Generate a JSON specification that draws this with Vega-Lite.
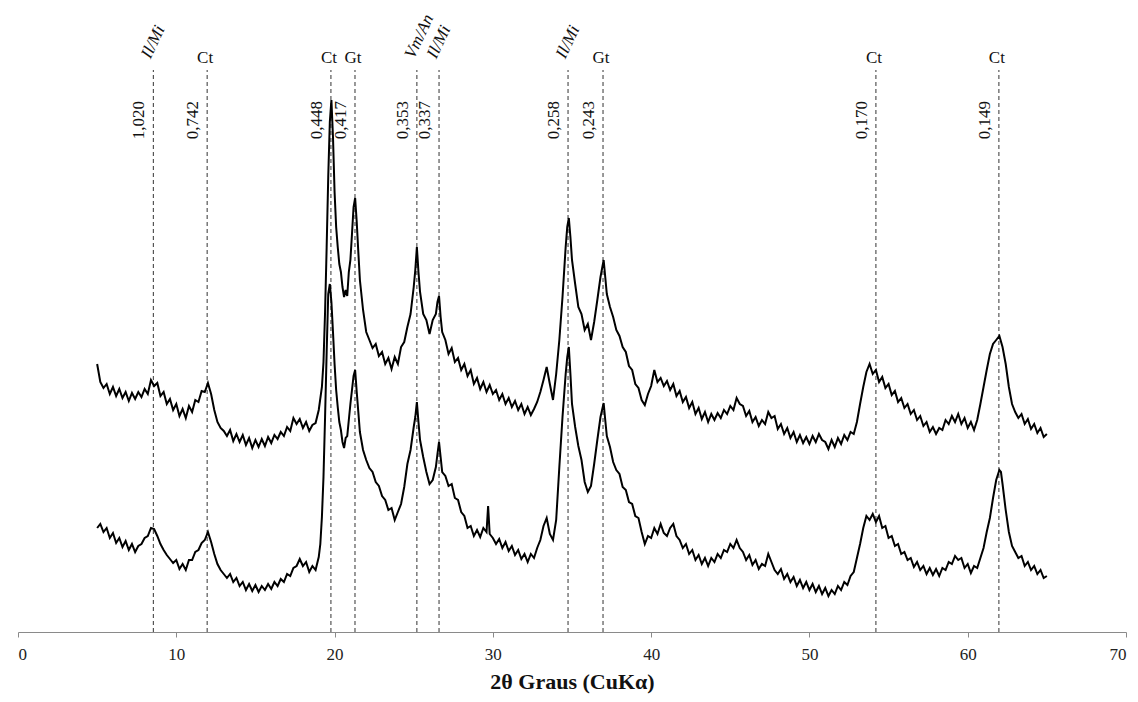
{
  "$schema": "https://vega.github.io/schema/vega-lite/v6.json",
  "autosize": {"type": "none"},
  "width": 1108,
  "height": 632,
  "padding": {"left": 18, "right": 12, "top": 0, "bottom": 70},
  "background": "white",
  "config": {"view": {"stroke": null}},
  "datasets": {
    "peaks": [
      {"t": 8.55, "d": "1,020", "mineral": "Il/Mi", "kind": "italic"},
      {"t": 11.95, "d": "0,742", "mineral": "Ct", "kind": "upright"},
      {"t": 19.77, "d": "0,448", "mineral": "Ct", "kind": "upright"},
      {"t": 21.29, "d": "0,417", "mineral": "Gt", "kind": "upright"},
      {"t": 25.2, "d": "0,353", "mineral": "Vm/An", "kind": "italic"},
      {"t": 26.6, "d": "0,337", "mineral": "Il/Mi", "kind": "italic"},
      {"t": 34.75, "d": "0,258", "mineral": "Il/Mi", "kind": "italic"},
      {"t": 36.96, "d": "0,243", "mineral": "Gt", "kind": "upright"},
      {"t": 54.2, "d": "0,170", "mineral": "Ct", "kind": "upright"},
      {"t": 61.97, "d": "0,149", "mineral": "Ct", "kind": "upright"}
    ],
    "upper": [
      {"t":5.0,"y":268},{"t":5.2,"y":250},{"t":5.4,"y":244},{"t":5.6,"y":248},{"t":5.8,"y":238},{"t":6.0,"y":245},{"t":6.2,"y":236},{"t":6.4,"y":243},{"t":6.6,"y":234},{"t":6.8,"y":240},
      {"t":7.0,"y":231},{"t":7.2,"y":239},{"t":7.4,"y":233},{"t":7.6,"y":240},{"t":7.8,"y":235},{"t":8.0,"y":243},{"t":8.2,"y":238},{"t":8.4,"y":252},{"t":8.6,"y":246},{"t":8.8,"y":249},
      {"t":9.0,"y":236},{"t":9.2,"y":240},{"t":9.4,"y":228},{"t":9.6,"y":233},{"t":9.8,"y":222},{"t":10.0,"y":228},{"t":10.2,"y":216},{"t":10.4,"y":223},{"t":10.6,"y":214},{"t":10.8,"y":226},
      {"t":11.0,"y":220},{"t":11.2,"y":232},{"t":11.4,"y":230},{"t":11.6,"y":241},{"t":11.8,"y":240},{"t":12.0,"y":249},{"t":12.2,"y":238},{"t":12.4,"y":222},{"t":12.6,"y":210},{"t":12.8,"y":204},
      {"t":13.0,"y":201},{"t":13.2,"y":196},{"t":13.4,"y":202},{"t":13.6,"y":191},{"t":13.8,"y":198},{"t":14.0,"y":190},{"t":14.2,"y":197},{"t":14.4,"y":187},{"t":14.6,"y":194},{"t":14.8,"y":184},
      {"t":15.0,"y":192},{"t":15.2,"y":185},{"t":15.4,"y":193},{"t":15.6,"y":186},{"t":15.8,"y":195},{"t":16.0,"y":189},{"t":16.2,"y":197},{"t":16.4,"y":193},{"t":16.6,"y":200},{"t":16.8,"y":196},
      {"t":17.0,"y":205},{"t":17.2,"y":201},{"t":17.4,"y":214},{"t":17.6,"y":208},{"t":17.8,"y":213},{"t":18.0,"y":204},{"t":18.2,"y":210},{"t":18.4,"y":201},{"t":18.6,"y":207},{"t":18.8,"y":209},
      {"t":19.0,"y":222},{"t":19.2,"y":245},{"t":19.3,"y":270},{"t":19.4,"y":320},{"t":19.5,"y":385},{"t":19.6,"y":455},{"t":19.7,"y":510},{"t":19.8,"y":532},{"t":19.9,"y":495},{"t":20.0,"y":440},
      {"t":20.1,"y":405},{"t":20.2,"y":385},{"t":20.3,"y":368},{"t":20.4,"y":360},{"t":20.5,"y":345},{"t":20.6,"y":335},{"t":20.7,"y":342},{"t":20.8,"y":336},{"t":20.9,"y":360},{"t":21.0,"y":372},
      {"t":21.1,"y":398},{"t":21.2,"y":425},{"t":21.3,"y":434},{"t":21.4,"y":410},{"t":21.5,"y":380},{"t":21.6,"y":352},{"t":21.8,"y":322},{"t":22.0,"y":300},{"t":22.2,"y":292},{"t":22.4,"y":284},
      {"t":22.6,"y":288},{"t":22.8,"y":276},{"t":23.0,"y":280},{"t":23.2,"y":268},{"t":23.4,"y":274},{"t":23.6,"y":263},{"t":23.8,"y":275},{"t":24.0,"y":268},{"t":24.2,"y":285},{"t":24.4,"y":290},
      {"t":24.6,"y":305},{"t":24.8,"y":318},{"t":25.0,"y":345},{"t":25.1,"y":362},{"t":25.2,"y":385},{"t":25.3,"y":360},{"t":25.4,"y":340},{"t":25.6,"y":318},{"t":25.8,"y":312},{"t":26.0,"y":298},
      {"t":26.2,"y":312},{"t":26.4,"y":318},{"t":26.5,"y":330},{"t":26.6,"y":336},{"t":26.7,"y":315},{"t":26.8,"y":300},{"t":27.0,"y":292},{"t":27.2,"y":278},{"t":27.4,"y":284},{"t":27.6,"y":270},
      {"t":27.8,"y":274},{"t":28.0,"y":262},{"t":28.2,"y":268},{"t":28.4,"y":256},{"t":28.6,"y":262},{"t":28.8,"y":248},{"t":29.0,"y":254},{"t":29.2,"y":243},{"t":29.4,"y":250},{"t":29.6,"y":240},
      {"t":29.8,"y":247},{"t":30.0,"y":238},{"t":30.2,"y":242},{"t":30.4,"y":232},{"t":30.6,"y":238},{"t":30.8,"y":228},{"t":31.0,"y":234},{"t":31.2,"y":225},{"t":31.4,"y":231},{"t":31.6,"y":222},
      {"t":31.8,"y":228},{"t":32.0,"y":218},{"t":32.2,"y":225},{"t":32.4,"y":217},{"t":32.6,"y":223},{"t":32.8,"y":230},{"t":33.0,"y":240},{"t":33.2,"y":252},{"t":33.4,"y":265},{"t":33.6,"y":248},
      {"t":33.8,"y":232},{"t":34.0,"y":258},{"t":34.2,"y":292},{"t":34.4,"y":335},{"t":34.6,"y":385},{"t":34.7,"y":405},{"t":34.8,"y":414},{"t":34.9,"y":395},{"t":35.0,"y":372},{"t":35.2,"y":348},
      {"t":35.4,"y":325},{"t":35.6,"y":318},{"t":35.8,"y":302},{"t":36.0,"y":308},{"t":36.2,"y":292},{"t":36.4,"y":310},{"t":36.6,"y":332},{"t":36.8,"y":355},{"t":37.0,"y":372},{"t":37.1,"y":355},
      {"t":37.2,"y":338},{"t":37.4,"y":325},{"t":37.6,"y":315},{"t":37.8,"y":302},{"t":38.0,"y":296},{"t":38.2,"y":285},{"t":38.4,"y":280},{"t":38.6,"y":266},{"t":38.8,"y":262},{"t":39.0,"y":248},
      {"t":39.2,"y":244},{"t":39.4,"y":232},{"t":39.6,"y":227},{"t":39.8,"y":238},{"t":40.0,"y":246},{"t":40.2,"y":262},{"t":40.4,"y":250},{"t":40.6,"y":254},{"t":40.8,"y":246},{"t":41.0,"y":251},
      {"t":41.2,"y":242},{"t":41.4,"y":248},{"t":41.6,"y":236},{"t":41.8,"y":241},{"t":42.0,"y":230},{"t":42.2,"y":235},{"t":42.4,"y":224},{"t":42.6,"y":230},{"t":42.8,"y":218},{"t":43.0,"y":224},
      {"t":43.2,"y":213},{"t":43.4,"y":220},{"t":43.6,"y":210},{"t":43.8,"y":218},{"t":44.0,"y":212},{"t":44.2,"y":219},{"t":44.4,"y":214},{"t":44.6,"y":222},{"t":44.8,"y":218},{"t":45.0,"y":226},
      {"t":45.2,"y":222},{"t":45.4,"y":234},{"t":45.6,"y":228},{"t":45.8,"y":226},{"t":46.0,"y":216},{"t":46.2,"y":221},{"t":46.4,"y":210},{"t":46.6,"y":215},{"t":46.8,"y":206},{"t":47.0,"y":212},
      {"t":47.2,"y":208},{"t":47.4,"y":220},{"t":47.6,"y":214},{"t":47.8,"y":216},{"t":48.0,"y":203},{"t":48.2,"y":208},{"t":48.4,"y":198},{"t":48.6,"y":204},{"t":48.8,"y":194},{"t":49.0,"y":200},
      {"t":49.2,"y":190},{"t":49.4,"y":197},{"t":49.6,"y":189},{"t":49.8,"y":195},{"t":50.0,"y":188},{"t":50.2,"y":196},{"t":50.4,"y":190},{"t":50.6,"y":198},{"t":50.8,"y":192},{"t":51.0,"y":190},
      {"t":51.2,"y":183},{"t":51.4,"y":192},{"t":51.6,"y":185},{"t":51.8,"y":194},{"t":52.0,"y":188},{"t":52.2,"y":197},{"t":52.4,"y":192},{"t":52.6,"y":200},{"t":52.8,"y":198},{"t":53.0,"y":210},
      {"t":53.2,"y":228},{"t":53.4,"y":245},{"t":53.6,"y":260},{"t":53.8,"y":268},{"t":54.0,"y":258},{"t":54.2,"y":262},{"t":54.4,"y":250},{"t":54.6,"y":255},{"t":54.8,"y":244},{"t":55.0,"y":248},
      {"t":55.2,"y":237},{"t":55.4,"y":241},{"t":55.6,"y":230},{"t":55.8,"y":234},{"t":56.0,"y":224},{"t":56.2,"y":228},{"t":56.4,"y":218},{"t":56.6,"y":222},{"t":56.8,"y":212},{"t":57.0,"y":216},
      {"t":57.2,"y":206},{"t":57.4,"y":210},{"t":57.6,"y":200},{"t":57.8,"y":205},{"t":58.0,"y":198},{"t":58.2,"y":204},{"t":58.4,"y":202},{"t":58.6,"y":212},{"t":58.8,"y":208},{"t":59.0,"y":216},
      {"t":59.2,"y":210},{"t":59.4,"y":218},{"t":59.6,"y":208},{"t":59.8,"y":214},{"t":60.0,"y":204},{"t":60.2,"y":210},{"t":60.4,"y":202},{"t":60.6,"y":212},{"t":60.8,"y":228},{"t":61.0,"y":245},
      {"t":61.2,"y":262},{"t":61.4,"y":278},{"t":61.6,"y":288},{"t":61.8,"y":292},{"t":62.0,"y":296},{"t":62.2,"y":285},{"t":62.4,"y":268},{"t":62.6,"y":245},{"t":62.8,"y":228},{"t":63.0,"y":220},
      {"t":63.2,"y":214},{"t":63.4,"y":218},{"t":63.6,"y":208},{"t":63.8,"y":213},{"t":64.0,"y":203},{"t":64.2,"y":208},{"t":64.4,"y":199},{"t":64.6,"y":204},{"t":64.8,"y":195},{"t":65.0,"y":198}
    ],
    "lower": [
      {"t":5.0,"y":104},{"t":5.2,"y":108},{"t":5.4,"y":100},{"t":5.6,"y":104},{"t":5.8,"y":94},{"t":6.0,"y":99},{"t":6.2,"y":89},{"t":6.4,"y":94},{"t":6.6,"y":85},{"t":6.8,"y":91},
      {"t":7.0,"y":82},{"t":7.2,"y":88},{"t":7.4,"y":80},{"t":7.6,"y":86},{"t":7.8,"y":88},{"t":8.0,"y":94},{"t":8.2,"y":96},{"t":8.4,"y":104},{"t":8.6,"y":103},{"t":8.8,"y":96},
      {"t":9.0,"y":88},{"t":9.2,"y":82},{"t":9.4,"y":77},{"t":9.6,"y":73},{"t":9.8,"y":69},{"t":10.0,"y":72},{"t":10.2,"y":63},{"t":10.4,"y":68},{"t":10.6,"y":62},{"t":10.8,"y":72},
      {"t":11.0,"y":72},{"t":11.2,"y":80},{"t":11.4,"y":82},{"t":11.6,"y":89},{"t":11.8,"y":92},{"t":12.0,"y":100},{"t":12.2,"y":90},{"t":12.4,"y":78},{"t":12.6,"y":68},{"t":12.8,"y":62},
      {"t":13.0,"y":58},{"t":13.2,"y":54},{"t":13.4,"y":58},{"t":13.6,"y":50},{"t":13.8,"y":54},{"t":14.0,"y":46},{"t":14.2,"y":50},{"t":14.4,"y":42},{"t":14.6,"y":48},{"t":14.8,"y":41},
      {"t":15.0,"y":47},{"t":15.2,"y":40},{"t":15.4,"y":46},{"t":15.6,"y":42},{"t":15.8,"y":48},{"t":16.0,"y":43},{"t":16.2,"y":50},{"t":16.4,"y":46},{"t":16.6,"y":53},{"t":16.8,"y":50},
      {"t":17.0,"y":58},{"t":17.2,"y":56},{"t":17.4,"y":64},{"t":17.6,"y":66},{"t":17.8,"y":73},{"t":18.0,"y":66},{"t":18.2,"y":70},{"t":18.4,"y":60},{"t":18.6,"y":66},{"t":18.8,"y":62},
      {"t":19.0,"y":75},{"t":19.1,"y":88},{"t":19.2,"y":115},{"t":19.3,"y":155},{"t":19.4,"y":215},{"t":19.5,"y":280},{"t":19.6,"y":338},{"t":19.7,"y":348},{"t":19.8,"y":330},{"t":19.9,"y":300},
      {"t":20.0,"y":268},{"t":20.1,"y":242},{"t":20.2,"y":225},{"t":20.3,"y":210},{"t":20.4,"y":202},{"t":20.5,"y":190},{"t":20.6,"y":184},{"t":20.7,"y":194},{"t":20.8,"y":196},{"t":20.9,"y":212},
      {"t":21.0,"y":228},{"t":21.1,"y":242},{"t":21.2,"y":256},{"t":21.3,"y":262},{"t":21.4,"y":240},{"t":21.5,"y":220},{"t":21.6,"y":200},{"t":21.8,"y":182},{"t":22.0,"y":172},{"t":22.2,"y":164},
      {"t":22.4,"y":160},{"t":22.6,"y":150},{"t":22.8,"y":146},{"t":23.0,"y":136},{"t":23.2,"y":132},{"t":23.4,"y":122},{"t":23.6,"y":124},{"t":23.8,"y":112},{"t":24.0,"y":120},{"t":24.2,"y":128},
      {"t":24.4,"y":145},{"t":24.6,"y":168},{"t":24.8,"y":182},{"t":25.0,"y":205},{"t":25.1,"y":215},{"t":25.2,"y":230},{"t":25.3,"y":210},{"t":25.4,"y":192},{"t":25.6,"y":175},{"t":25.8,"y":160},
      {"t":26.0,"y":148},{"t":26.2,"y":152},{"t":26.4,"y":165},{"t":26.5,"y":178},{"t":26.6,"y":190},{"t":26.7,"y":175},{"t":26.8,"y":160},{"t":27.0,"y":156},{"t":27.2,"y":146},{"t":27.4,"y":148},
      {"t":27.6,"y":134},{"t":27.8,"y":132},{"t":28.0,"y":120},{"t":28.2,"y":116},{"t":28.4,"y":104},{"t":28.6,"y":106},{"t":28.8,"y":96},{"t":29.0,"y":102},{"t":29.2,"y":95},{"t":29.4,"y":104},
      {"t":29.6,"y":100},{"t":29.7,"y":126},{"t":29.8,"y":98},{"t":30.0,"y":94},{"t":30.2,"y":88},{"t":30.4,"y":93},{"t":30.6,"y":84},{"t":30.8,"y":90},{"t":31.0,"y":81},{"t":31.2,"y":86},
      {"t":31.4,"y":77},{"t":31.6,"y":82},{"t":31.8,"y":73},{"t":32.0,"y":78},{"t":32.2,"y":70},{"t":32.4,"y":78},{"t":32.6,"y":74},{"t":32.8,"y":84},{"t":33.0,"y":92},{"t":33.2,"y":106},
      {"t":33.4,"y":114},{"t":33.6,"y":98},{"t":33.8,"y":92},{"t":34.0,"y":112},{"t":34.2,"y":165},{"t":34.4,"y":215},{"t":34.6,"y":258},{"t":34.7,"y":275},{"t":34.8,"y":285},{"t":34.9,"y":258},
      {"t":35.0,"y":228},{"t":35.2,"y":205},{"t":35.4,"y":186},{"t":35.6,"y":172},{"t":35.8,"y":150},{"t":36.0,"y":140},{"t":36.2,"y":146},{"t":36.4,"y":168},{"t":36.6,"y":192},{"t":36.8,"y":215},
      {"t":37.0,"y":229},{"t":37.1,"y":212},{"t":37.2,"y":196},{"t":37.4,"y":185},{"t":37.6,"y":170},{"t":37.8,"y":162},{"t":38.0,"y":158},{"t":38.2,"y":145},{"t":38.4,"y":142},{"t":38.6,"y":130},
      {"t":38.8,"y":128},{"t":39.0,"y":116},{"t":39.2,"y":114},{"t":39.4,"y":100},{"t":39.6,"y":88},{"t":39.8,"y":96},{"t":40.0,"y":94},{"t":40.2,"y":104},{"t":40.4,"y":98},{"t":40.6,"y":108},
      {"t":40.8,"y":99},{"t":41.0,"y":96},{"t":41.2,"y":104},{"t":41.4,"y":108},{"t":41.6,"y":96},{"t":41.8,"y":92},{"t":42.0,"y":84},{"t":42.2,"y":88},{"t":42.4,"y":78},{"t":42.6,"y":82},
      {"t":42.8,"y":72},{"t":43.0,"y":77},{"t":43.2,"y":68},{"t":43.4,"y":74},{"t":43.6,"y":66},{"t":43.8,"y":74},{"t":44.0,"y":70},{"t":44.2,"y":78},{"t":44.4,"y":74},{"t":44.6,"y":82},
      {"t":44.8,"y":80},{"t":45.0,"y":88},{"t":45.2,"y":84},{"t":45.4,"y":92},{"t":45.6,"y":84},{"t":45.8,"y":80},{"t":46.0,"y":72},{"t":46.2,"y":77},{"t":46.4,"y":67},{"t":46.6,"y":72},
      {"t":46.8,"y":63},{"t":47.0,"y":68},{"t":47.2,"y":66},{"t":47.4,"y":78},{"t":47.6,"y":70},{"t":47.8,"y":62},{"t":48.0,"y":58},{"t":48.2,"y":63},{"t":48.4,"y":53},{"t":48.6,"y":58},
      {"t":48.8,"y":50},{"t":49.0,"y":55},{"t":49.2,"y":46},{"t":49.4,"y":52},{"t":49.6,"y":44},{"t":49.8,"y":50},{"t":50.0,"y":42},{"t":50.2,"y":48},{"t":50.4,"y":40},{"t":50.6,"y":46},
      {"t":50.8,"y":38},{"t":51.0,"y":44},{"t":51.2,"y":36},{"t":51.4,"y":42},{"t":51.6,"y":38},{"t":51.8,"y":46},{"t":52.0,"y":42},{"t":52.2,"y":50},{"t":52.4,"y":47},{"t":52.6,"y":56},
      {"t":52.8,"y":60},{"t":53.0,"y":74},{"t":53.2,"y":88},{"t":53.4,"y":104},{"t":53.6,"y":116},{"t":53.8,"y":112},{"t":54.0,"y":118},{"t":54.2,"y":110},{"t":54.4,"y":116},{"t":54.6,"y":104},
      {"t":54.8,"y":106},{"t":55.0,"y":94},{"t":55.2,"y":96},{"t":55.4,"y":86},{"t":55.6,"y":88},{"t":55.8,"y":78},{"t":56.0,"y":80},{"t":56.2,"y":72},{"t":56.4,"y":74},{"t":56.6,"y":65},
      {"t":56.8,"y":70},{"t":57.0,"y":62},{"t":57.2,"y":66},{"t":57.4,"y":58},{"t":57.6,"y":64},{"t":57.8,"y":57},{"t":58.0,"y":63},{"t":58.2,"y":56},{"t":58.4,"y":64},{"t":58.6,"y":62},
      {"t":58.8,"y":70},{"t":59.0,"y":68},{"t":59.2,"y":76},{"t":59.4,"y":72},{"t":59.6,"y":74},{"t":59.8,"y":64},{"t":60.0,"y":68},{"t":60.2,"y":59},{"t":60.4,"y":66},{"t":60.6,"y":64},
      {"t":60.8,"y":74},{"t":61.0,"y":84},{"t":61.2,"y":100},{"t":61.4,"y":114},{"t":61.6,"y":134},{"t":61.8,"y":152},{"t":62.0,"y":162},{"t":62.1,"y":160},{"t":62.2,"y":148},{"t":62.4,"y":122},
      {"t":62.6,"y":100},{"t":62.8,"y":86},{"t":63.0,"y":80},{"t":63.2,"y":74},{"t":63.4,"y":76},{"t":63.6,"y":66},{"t":63.8,"y":70},{"t":64.0,"y":62},{"t":64.2,"y":66},{"t":64.4,"y":58},
      {"t":64.6,"y":62},{"t":64.8,"y":54},{"t":65.0,"y":56}
    ]
  },
  "encoding": {
    "x": {
      "field": "t",
      "type": "quantitative",
      "scale": {"domain": [0, 70], "nice": false},
      "axis": {
        "values": [0, 10, 20, 30, 40, 50, 60, 70],
        "grid": false,
        "domainColor": "#8a8a8a",
        "domainWidth": 1.2,
        "tickColor": "#8a8a8a",
        "tickSize": 5,
        "labelFont": "Liberation Serif",
        "labelFontSize": 17,
        "labelColor": "#222222",
        "labelPadding": 9,
        "title": "2θ Graus  (CuKα)",
        "titleFont": "Liberation Serif",
        "titleFontSize": 22,
        "titleFontWeight": "bold",
        "titleColor": "#111111",
        "titlePadding": 9
      }
    }
  },
  "layer": [
    {
      "data": {"name": "peaks"},
      "mark": {"type": "rule", "strokeDash": [4, 3], "strokeWidth": 1, "color": "#333333"},
      "encoding": {
        "y": {"datum": 0, "type": "quantitative", "scale": {"domain": [0, 632], "nice": false, "zero": false}, "axis": null},
        "y2": {"datum": 562}
      }
    },
    {
      "data": {"name": "upper"},
      "mark": {"type": "line", "color": "#000000", "strokeWidth": 2, "interpolate": "linear"},
      "encoding": {
        "y": {"field": "y", "type": "quantitative", "scale": {"domain": [0, 632], "nice": false, "zero": false}, "axis": null}
      }
    },
    {
      "data": {"name": "lower"},
      "mark": {"type": "line", "color": "#000000", "strokeWidth": 2, "interpolate": "linear"},
      "encoding": {
        "y": {"field": "y", "type": "quantitative", "scale": {"domain": [0, 632], "nice": false, "zero": false}, "axis": null}
      }
    },
    {
      "data": {"name": "peaks"},
      "mark": {"type": "text", "angle": 270, "align": "center", "baseline": "bottom", "dy": -5, "font": "Liberation Serif", "fontSize": 17, "color": "#111111"},
      "encoding": {
        "y": {"datum": 512, "type": "quantitative", "scale": {"domain": [0, 632], "nice": false, "zero": false}, "axis": null},
        "text": {"field": "d", "type": "nominal"}
      }
    },
    {
      "data": {"name": "peaks"},
      "transform": [{"filter": "datum.kind === 'upright'"}],
      "mark": {"type": "text", "align": "center", "baseline": "middle", "dx": -2, "font": "Liberation Serif", "fontSize": 17, "color": "#111111"},
      "encoding": {
        "y": {"datum": 574, "type": "quantitative", "scale": {"domain": [0, 632], "nice": false, "zero": false}, "axis": null},
        "text": {"field": "mineral", "type": "nominal"}
      }
    },
    {
      "data": {"name": "peaks"},
      "transform": [{"filter": "datum.kind === 'italic'"}],
      "mark": {"type": "text", "angle": 295, "align": "left", "baseline": "bottom", "dx": 2, "font": "Liberation Serif", "fontStyle": "italic", "fontSize": 17, "color": "#111111"},
      "encoding": {
        "y": {"datum": 569, "type": "quantitative", "scale": {"domain": [0, 632], "nice": false, "zero": false}, "axis": null},
        "text": {"field": "mineral", "type": "nominal"}
      }
    }
  ]
}
